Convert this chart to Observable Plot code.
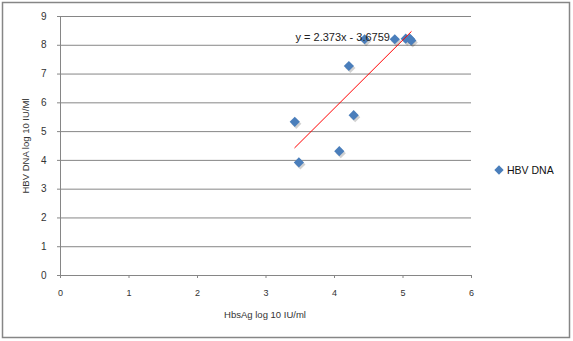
<!DOCTYPE html>
<html>
<head>
<meta charset="utf-8">
<script src="https://cdn.jsdelivr.net/npm/d3@7"></script>
<script src="https://cdn.jsdelivr.net/npm/@observablehq/plot@0.6"></script>
<style>
  html, body { margin: 0; padding: 0; background: #fff; }
  #chart { width: 573px; height: 341px; }
</style>
</head>
<body>
<div id="chart"></div>
<script>
// ---- data ----
const seriesName = "HBV DNA";
const hbsAg = [3.42, 3.48, 4.07, 4.21, 4.28, 4.44, 4.88, 5.04, 5.10, 5.12];
const hbvDna = [5.34, 3.93, 4.32, 7.28, 5.57, 8.21, 8.21, 8.23, 8.23, 8.17];
const xTicks = [0, 1, 2, 3, 4, 5, 6];
const yTicks = [0, 1, 2, 3, 4, 5, 6, 7, 8, 9];
const trendSlope = 2.373;
const trendIntercept = -3.6759;
const trendLabel = "y = 2.373x - 3.6759";
const xTitle = "HbsAg log 10 IU/ml";
const yTitle = "HBV DNA log 10 IU/Ml";
const labelAt = {x: 4.12, y: 8.28};

const points = hbsAg.map((x, i) => ({x, y: hbvDna[i]}));
const xExt = d3.extent(hbsAg);
const trend = xExt.map(x => ({x, y: trendSlope * x + trendIntercept}));

const blue = "#4a7ebb";
const gray = "#868686";

const chart = Plot.plot({
  width: 573,
  height: 341,
  marginLeft: 60,
  marginRight: 102,
  marginTop: 16,
  marginBottom: 66,
  style: {fontFamily: "'Liberation Sans', Arial, sans-serif", fontSize: "9.5px", color: "#333", background: "#fff"},
  x: {domain: [0, 6]},
  y: {domain: [0, 9]},
  marks: [
    Plot.gridY(yTicks, {stroke: gray, strokeOpacity: 1}),
    Plot.ruleX([0], {stroke: gray}),
    Plot.ruleY([0], {stroke: gray}),
    Plot.axisY({ticks: yTicks, tickSize: 3, tickPadding: 11, stroke: gray, fontSize: 10, tickFormat: d3.format("d"), label: null}),
    Plot.axisX({ticks: xTicks, tickSize: 3, tickPadding: 11, stroke: gray, fontSize: 9, tickFormat: d3.format("d"), label: null}),
    Plot.dot(points, {x: "x", y: "y", symbol: "diamond2", r: 4.6, fill: "#000", fillOpacity: 0.18, dx: 1.5, dy: 2}),
    Plot.dot(points, {x: "x", y: "y", symbol: "diamond2", r: 4.6, fill: blue}),
    Plot.line(trend, {x: "x", y: "y", stroke: "#ff0000", strokeWidth: 1}),
    Plot.text([labelAt], {x: "x", y: "y", text: () => trendLabel, fontSize: 11, fill: "#222"})
  ]
});

const svg = d3.select(chart);
// outer chart border
svg.append("rect")
  .attr("x", 2.5).attr("y", 2.5).attr("width", 567).attr("height", 335)
  .attr("fill", "none").attr("stroke", gray).attr("stroke-width", 1.5);
// axis titles
svg.append("text")
  .attr("x", 265).attr("y", 318).attr("text-anchor", "middle")
  .attr("font-size", 9.5).attr("fill", "#333").text(xTitle);
svg.append("text")
  .attr("transform", "translate(29,146) rotate(-90)").attr("text-anchor", "middle")
  .attr("font-size", 9.5).attr("fill", "#333").text(yTitle);
// legend
svg.append("path")
  .attr("d", d3.symbol(d3.symbolDiamond2, Math.PI * 4.2 * 4.2)())
  .attr("transform", "translate(499,170)").attr("fill", blue);
svg.append("text")
  .attr("x", 507).attr("y", 174).attr("text-anchor", "start")
  .attr("font-size", 10.5).attr("fill", "#111").text(seriesName);

document.getElementById("chart").append(chart);
</script>
</body>
</html>
